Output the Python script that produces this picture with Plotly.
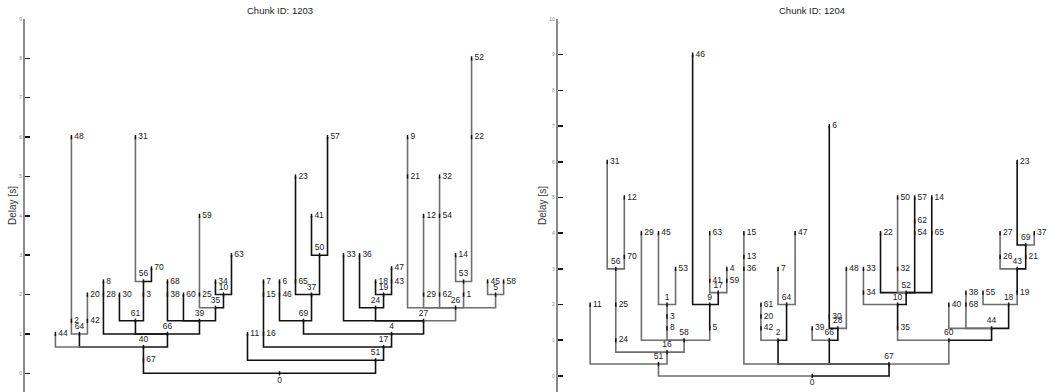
import plotly.graph_objects as go

# ---------------- Data: Chunk ID 1203 (pre-order: node, parent, delay [s]) -------------
c1203_ids = [0, 67, 40, 44, 64, 2, 48, 42, 20, 66, 28, 8, 61, 30, 3, 56, 31, 70, 39, 38,
             68, 60, 35, 25, 59, 10, 34, 63, 51, 11, 17, 16, 15, 7, 4, 69, 46, 6, 37, 65,
             23, 50, 41, 57, 27, 33, 24, 36, 19, 18, 43, 47, 26, 21, 9, 29, 12, 62, 54, 32,
             1, 53, 14, 22, 52, 5, 45, 58]
c1203_parent = [None, 0, 67, 40, 40, 64, 2, 64, 42, 40, 66, 28, 66, 61, 61, 3, 56, 56, 66, 39,
                38, 39, 39, 35, 25, 35, 10, 10, 0, 51, 51, 17, 16, 15, 17, 4, 69, 46, 69, 37,
                65, 37, 50, 50, 4, 27, 27, 24, 24, 19, 19, 43, 27, 26, 21, 26, 29, 26, 62, 54,
                26, 1, 53, 53, 22, 26, 5, 5]
c1203_delay = [0, 0.333, 0.667, 1, 1, 1.333, 6, 1.333, 2, 1, 2, 2.333, 1.333, 2, 2, 2.333, 6, 2.667, 1.333, 2,
               2.333, 2, 1.667, 2, 4, 2, 2.333, 3, 0.333, 1, 0.667, 1, 2, 2.333, 1, 1.333, 2, 2.333, 2, 2.333,
               5, 3, 4, 6, 1.333, 3, 1.667, 3, 2, 2.333, 2.333, 2.667, 1.667, 5, 6, 2, 4, 2, 4, 5,
               2, 2.333, 3, 6, 8, 2, 2.333, 2.333]
c1203_gray = [44, 2, 48, 42, 20, 31, 59, 25, 26, 21, 9, 29, 12, 62, 54, 32, 1, 53, 14, 22,
              52, 5, 45, 58]

# ---------------- Data: Chunk ID 1204 -------------
c1204_ids = [0, 51, 11, 16, 24, 25, 56, 31, 70, 12, 58, 29, 8, 3, 1, 45, 53, 5, 9, 46,
             17, 41, 63, 59, 4, 67, 36, 13, 15, 2, 42, 20, 61, 64, 7, 47, 66, 39, 28, 30,
             6, 48, 60, 35, 10, 34, 33, 52, 22, 32, 50, 54, 62, 57, 65, 14, 44, 40, 68, 38,
             18, 55, 19, 43, 26, 27, 21, 69, 23, 37]
c1204_parent = [None, 0, 51, 51, 16, 24, 25, 56, 56, 70, 16, 58, 58, 8, 3, 1, 1, 58, 5, 9,
                9, 17, 41, 17, 59, 0, 67, 36, 13, 67, 2, 42, 20, 2, 64, 64, 67, 66, 66, 28,
                30, 28, 67, 60, 35, 10, 34, 10, 52, 52, 32, 52, 54, 62, 52, 65, 60, 44, 44, 68,
                44, 18, 18, 19, 43, 26, 43, 21, 69, 69]
c1204_delay = [0, 0.333, 2, 0.667, 1, 2, 3, 6, 3.333, 5, 1, 4, 1.333, 1.667, 2, 4, 3, 1.333, 2, 9,
               2.333, 2.667, 4, 2.667, 3, 0.333, 3, 3.333, 4, 1, 1.333, 1.667, 2, 2, 3, 4, 1, 1.333, 1.333, 1.667,
               7, 3, 1, 1.333, 2, 2.333, 3, 2.333, 4, 3, 5, 4, 4.333, 5, 4, 5, 1.333, 2, 2, 2.333,
               2, 2.333, 2.333, 3, 3.333, 4, 3.333, 3.667, 6, 4]
c1204_gray = [51, 11, 16, 24, 25, 56, 31, 70, 12, 58, 29, 8, 3, 1, 45, 53, 5, 41, 63, 59,
              4, 36, 13, 15, 42, 20, 61, 7, 47, 39, 48, 33, 34, 35, 32, 50, 60, 40, 68, 38,
              55, 19, 26, 27, 37]

BLACK = "#111111"
GRAY = "#6e6e6e"
FONT = "Liberation Sans, Arial, sans-serif"
W, H = 1059, 392
PAD = 1.9


def layout_tree(ids, parent):
    children = {i: [] for i in ids}
    root = None
    for i, p in zip(ids, parent):
        if p is None:
            root = i
        else:
            children[p].append(i)
    acc = {}
    cnt = [0]

    def visit(n):
        if not children[n]:
            cnt[0] += 1
            acc[n] = (cnt[0], 1)
            return acc[n]
        s = c = 0
        for ch in children[n]:
            a, b = visit(ch)
            s += a
            c += b
        acc[n] = (s, c)
        return acc[n]

    visit(root)
    x = {n: s / c for n, (s, c) in acc.items()}
    return root, children, x, cnt[0]


fig = go.Figure()


def add_tree(ids, parent, delay, gray, xa, ya):
    root, children, x, nleaf = layout_tree(ids, parent)
    y = dict(zip(ids, delay))
    segs = {BLACK: ([], []), GRAY: ([], [])}
    for i, p in zip(ids, parent):
        if p is None:
            continue
        col = GRAY if i in gray else BLACK
        sx, sy = segs[col]
        sx += [x[p], x[i], x[i], None]
        sy += [y[p], y[p], y[i], None]
    for col, (sx, sy) in segs.items():
        fig.add_trace(go.Scatter(x=sx, y=sy, mode="lines", line=dict(color=col, width=1.6),
                                 xaxis=xa, yaxis=ya, hoverinfo="skip", showlegend=False))
    pos = []
    for i in ids:
        if i == root:
            pos.append("bottom center")
        elif len(children[i]) >= 2:
            pos.append("top center")
        else:
            pos.append("middle right")
    fig.add_trace(go.Scatter(
        x=[x[i] for i in ids], y=[y[i] for i in ids], mode="markers+text",
        text=[str(i) for i in ids], textposition=pos,
        marker=dict(symbol="line-ns", size=3, color=BLACK, line=dict(width=1.5, color=BLACK)),
        textfont=dict(size=8.5, color="#222222", family=FONT),
        xaxis=xa, yaxis=ya, hoverinfo="skip", showlegend=False))
    return nleaf, x[root]


n1, r1 = add_tree(c1203_ids, c1203_parent, c1203_delay, set(c1203_gray), "x", "y")
n2, r2 = add_tree(c1204_ids, c1204_parent, c1204_delay, set(c1204_gray), "x2", "y2")

# Domains (pixel based)
full_w = 509.0
l1 = 25.0
l2 = 557.7
sp1 = full_w / (n1 - 1 + 2 * PAD)
sp2 = full_w / (n2 - 1 + 2 * PAD)
x1_range = [1 - PAD, 1 - PAD + full_w / sp1]
x2_range = [1 - PAD, 1 - PAD + (W - l2) / sp2]

ymax1 = max(c1203_delay) + 1
ymax2 = max(c1204_delay) + 1

xcommon = dict(showline=False, showticklabels=False, showgrid=False, zeroline=False, ticks="",
               automargin=False)
ycommon = dict(showline=True, linecolor="#8a8a8a", linewidth=2, ticks="inside", ticklen=5,
               tickwidth=1.5, tickcolor=BLACK, dtick=1, showgrid=False, zeroline=False,
               automargin=False,
               tickfont=dict(size=5, color="#888888", family=FONT),
               title=dict(text="Delay [s]", font=dict(size=10, color="#333333", family=FONT), standoff=1))

fig.update_layout(
    width=W, height=H,
    margin=dict(l=0, r=0, t=19, b=0, autoexpand=False),
    paper_bgcolor="white", plot_bgcolor="white",
    hovermode=False,
    xaxis=dict(domain=[l1 / W, (l1 + full_w) / W], range=x1_range, anchor="y", **xcommon),
    xaxis2=dict(domain=[l2 / W, 1.0], range=x2_range, anchor="y2", **xcommon),
    yaxis=dict(domain=[0, 1], range=[-0.475, ymax1], anchor="x", **ycommon),
    yaxis2=dict(domain=[0, 1], range=[-0.45, ymax2], anchor="x2", **ycommon),
    annotations=[
        dict(text="Chunk ID: 1203", x=r1, xref="x", y=1 + 8.5 / 373, yref="paper",
             showarrow=False, font=dict(size=9.5, color="#222222", family=FONT), yanchor="middle"),
        dict(text="Chunk ID: 1204", x=r2, xref="x2", y=1 + 8.5 / 373, yref="paper",
             showarrow=False, font=dict(size=9.5, color="#222222", family=FONT), yanchor="middle"),
    ],
)

fig.write_html("out.html", config={"displayModeBar": False, "staticPlot": True},
               post_script="document.body.style.margin='0';document.body.style.overflow='hidden';")
